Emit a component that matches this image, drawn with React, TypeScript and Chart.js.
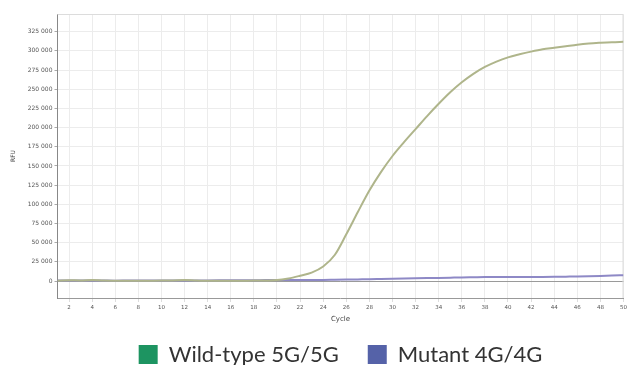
import React, { useEffect, useRef } from "react";
import { Chart, registerables } from "chart.js";

Chart.register(...registerables);

const CYCLES = [
  1, 2, 3, 4, 5, 6, 7, 8, 9, 10, 11, 12, 13, 14, 15, 16, 17, 18, 19, 20, 21, 22, 23, 24, 25,
  26, 27, 28, 29, 30, 31, 32, 33, 34, 35, 36, 37, 38, 39, 40, 41, 42, 43, 44, 45, 46, 47, 48, 49, 50,
];

const WILD_TYPE = [
  600, 1200, 900, 1500, 700, 500, 400, 500, 600, 700, 900, 1400, 800, 500, 400, 500, 600, 700, 900, 1300,
  3500, 7000, 11000, 19000, 34000, 61000, 90000, 118000, 142000, 163000, 181000, 198000, 215000, 231000, 246000,
  259000, 270000, 279000, 286000, 291500, 295500, 299000, 302000, 304000, 306000, 308000, 309500, 310500, 311300, 311800,
];

const MUTANT = [
  800, 900, 700, 800, 700, 600, 700, 800, 700, 800, 900, 900, 800, 900, 1000, 1100, 1200, 1200, 1300, 1300,
  1400, 1400, 1500, 1600, 1800, 2000, 2200, 2400, 2700, 3000, 3300, 3600, 3900, 4200, 4500, 4800, 5000, 5200,
  5300, 5400, 5400, 5500, 5500, 5600, 5800, 6000, 6300, 6700, 7200, 7800,
];

const X_TICKS = [2, 4, 6, 8, 10, 12, 14, 16, 18, 20, 22, 24, 26, 28, 30, 32, 34, 36, 38, 40, 42, 44, 46, 48, 50];
const Y_TICKS = [0, 25000, 50000, 75000, 100000, 125000, 150000, 175000, 200000, 225000, 250000, 275000, 300000, 325000];

const SERIES_NAMES = ["Wild-type 5G/5G", "Mutant 4G/4G"];
const LINE_COLORS = ["#afb58b", "#8e89c6"];
const LEGEND_COLORS = ["#1d9461", "#5562a8"];

const fmt = (v: number) => String(v).replace(/\B(?=(\d{3})+(?!\d))/g, " ");

const framePlugin = {
  id: "frame",
  beforeDatasetsDraw(chart: any) {
    const { ctx, chartArea } = chart;
    ctx.save();
    ctx.strokeStyle = "#dcdcdc";
    ctx.lineWidth = 1;
    ctx.beginPath();
    ctx.moveTo(chartArea.left, chartArea.top + 0.5);
    ctx.lineTo(chartArea.right - 0.5, chartArea.top + 0.5);
    ctx.lineTo(chartArea.right - 0.5, chartArea.bottom);
    ctx.stroke();
    ctx.restore();
  },
};

export default function App() {
  const ref = useRef<HTMLCanvasElement | null>(null);

  useEffect(() => {
    if (!ref.current) return;
    const chart = new Chart(ref.current, {
      type: "line",
      data: {
        datasets: [
          {
            label: SERIES_NAMES[0],
            data: CYCLES.map((c, i) => ({ x: c, y: WILD_TYPE[i] })),
            borderColor: LINE_COLORS[0],
            backgroundColor: LEGEND_COLORS[0],
            borderWidth: 2,
            pointRadius: 0,
            cubicInterpolationMode: "monotone",
          },
          {
            label: SERIES_NAMES[1],
            data: CYCLES.map((c, i) => ({ x: c, y: MUTANT[i] })),
            borderColor: LINE_COLORS[1],
            backgroundColor: LEGEND_COLORS[1],
            borderWidth: 2,
            pointRadius: 0,
            cubicInterpolationMode: "monotone",
          },
        ],
      },
      options: {
        animation: false,
        responsive: false,
        layout: { padding: { top: 14, right: 2, bottom: -10.5, left: 0 } },
        plugins: {
          tooltip: { enabled: false },
          legend: {
            position: "bottom",
            fullSize: false,
            labels: {
              font: { family: "Lato", size: 22 },
              color: "#333",
              boxWidth: 19,
              boxHeight: 19,
              padding: 29,
              generateLabels: () =>
                SERIES_NAMES.map((name, i) => ({
                  text: name,
                  fillStyle: LEGEND_COLORS[i],
                  strokeStyle: LEGEND_COLORS[i],
                  lineWidth: 0,
                  hidden: false,
                  datasetIndex: i,
                  fontColor: "#333",
                })),
            },
          },
        },
        scales: {
          x: {
            type: "linear",
            min: 1,
            max: 50,
            afterBuildTicks: (s: any) => {
              s.ticks = X_TICKS.map((v) => ({ value: v }));
            },
            afterFit: (s: any) => {
              s.height = 16.5;
            },
            grid: { color: "#ececec", tickLength: 4, tickColor: "#ddd" },
            border: { color: "#999" },
            ticks: {
              font: { family: "DejaVu Sans", size: 5.5 },
              color: "#555",
              padding: 2,
              maxRotation: 0,
              autoSkip: false,
            },
            title: {
              display: true,
              text: "Cycle",
              font: { family: "DejaVu Sans", size: 7 },
              color: "#444",
              padding: { top: 0, bottom: -9 },
            },
          },
          y: {
            type: "linear",
            min: -22000,
            max: 348000,
            afterBuildTicks: (s: any) => {
              s.ticks = Y_TICKS.map((v) => ({ value: v }));
            },
            afterFit: (s: any) => {
              s.width = 57.5;
            },
            grid: {
              color: (c: any) => (c.tick && c.tick.value === 0 ? "#9a9a9a" : "#ececec"),
              tickLength: 3,
              tickColor: "#aaa",
            },
            border: { color: "#888" },
            ticks: {
              font: { family: "DejaVu Sans", size: 6 },
              color: "#555",
              padding: 2,
              callback: (v: any) => fmt(Number(v)),
            },
            title: {
              display: true,
              text: "RFU",
              font: { family: "DejaVu Sans", size: 6 },
              color: "#444",
              padding: { top: 10, bottom: 0 },
            },
          },
        },
      },
      plugins: [framePlugin],
    });
    return () => chart.destroy();
  }, []);

  return (
    <div style={{ position: "absolute", left: 0, top: 0, width: 629, height: 365, background: "#fff" }}>
      <canvas ref={ref} width={629} height={365} style={{ display: "block", width: 629, height: 365 }} />
    </div>
  );
}
